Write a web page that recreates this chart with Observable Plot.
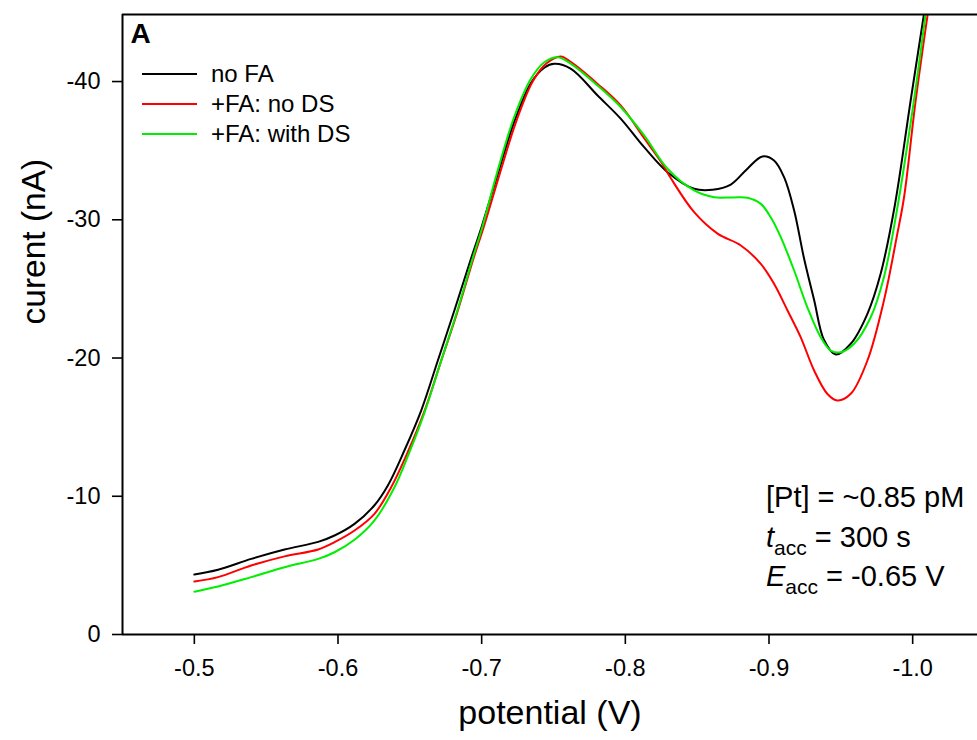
<!DOCTYPE html>
<html><head><meta charset="utf-8">
<script src="https://cdn.jsdelivr.net/npm/d3@7"></script>
<script src="https://cdn.jsdelivr.net/npm/@observablehq/plot@0.6"></script>
<style>
body{margin:0;background:#fff}
#chart svg{font-family:"Liberation Sans",Arial,sans-serif;display:block}
</style>
</head><body><div id="chart"></div>
<script>
// ---- data (potential in V, current in nA) ----
const seriesNames = ["no FA", "+FA: no DS", "+FA: with DS"];
const seriesColors = ["#000000", "#ff0000", "#00ee00"];

const potNoFA = [-0.500,-0.5165,-0.5396,-0.5628,-0.5862,-0.5976,-0.6115,-0.6254,-0.6347,-0.6462,-0.6579,-0.6695,-0.681,-0.6926,-0.700,-0.7112,-0.7227,-0.7343,-0.7436,-0.7506,-0.7622,-0.7807,-0.7969,-0.8131,-0.8294,-0.8479,-0.8607,-0.8734,-0.885,-0.8954,-0.9035,-0.9105,-0.9175,-0.9244,-0.9314,-0.9383,-0.9465,-0.9569,-0.9685,-0.9777,-0.9875,-0.9986,-1.0079];
const curNoFA = [-4.34,-4.68,-5.47,-6.15,-6.70,-7.16,-8.00,-9.35,-10.78,-13.31,-16.2,-19.82,-23.44,-27.2,-29.5,-33.3,-37.1,-39.9,-41.0,-41.28,-40.92,-38.99,-37.3,-35.25,-33.44,-32.24,-32.17,-32.55,-33.7,-34.58,-34.29,-33.08,-30.67,-27.2,-24.2,-21.3,-20.25,-21.03,-23.2,-26.09,-31.0,-38.63,-44.9];

const potFAnoDS = [-0.500,-0.5165,-0.5396,-0.5628,-0.5862,-0.5976,-0.6115,-0.6254,-0.637,-0.6486,-0.660,-0.6715,-0.683,-0.694,-0.7015,-0.7125,-0.724,-0.7355,-0.745,-0.755,-0.7622,-0.7807,-0.7969,-0.8131,-0.8248,-0.8317,-0.8479,-0.8642,-0.8804,-0.8943,-0.9035,-0.9129,-0.9221,-0.9314,-0.9407,-0.9476,-0.9569,-0.9685,-0.980,-0.9893,-0.994,-1.0021,-1.0105];
const curFAnoDS = [-3.83,-4.15,-4.99,-5.65,-6.15,-6.68,-7.52,-8.73,-10.65,-13.2,-16.1,-19.7,-23.3,-27.1,-29.5,-33.3,-37.1,-40.0,-41.3,-41.81,-41.4,-39.83,-38.26,-35.9,-34.2,-33.0,-30.55,-29.0,-28.14,-26.81,-25.37,-23.44,-21.5,-19.1,-17.4,-16.93,-17.41,-19.82,-24.16,-28.98,-31.63,-38.63,-44.9];

const potFAwithDS = [-0.500,-0.5165,-0.5396,-0.5628,-0.5862,-0.5976,-0.6115,-0.6254,-0.6393,-0.6486,-0.660,-0.6715,-0.683,-0.694,-0.7005,-0.711,-0.7225,-0.7343,-0.7436,-0.7529,-0.7622,-0.7807,-0.7969,-0.8131,-0.8294,-0.8479,-0.8618,-0.8750,-0.885,-0.8943,-0.9012,-0.9082,-0.9175,-0.9267,-0.936,-0.9430,-0.9500,-0.9592,-0.9708,-0.980,-0.9882,-1.0009,-1.009];
const curFAwithDS = [-3.10,-3.47,-4.15,-4.87,-5.47,-5.95,-6.85,-8.25,-10.65,-12.9,-16.0,-19.7,-23.4,-27.3,-29.5,-33.5,-37.4,-40.2,-41.4,-41.76,-41.28,-39.71,-38.14,-36.1,-33.69,-32.12,-31.63,-31.62,-31.59,-31.15,-30.18,-28.74,-26.33,-23.67,-21.5,-20.54,-20.42,-21.03,-22.95,-25.85,-30.18,-38.63,-44.9];

const xTicks = [-0.5, -0.6, -0.7, -0.8, -0.9, -1.0];
const yTicks = [0, -10, -20, -30, -40];
const xLabel = "potential (V)";
const yLabel = "curent (nA)";
const panelLabel = "A";
const annotation = [
  {main: "[Pt] = ~0.85 pM"},
  {italic: "t", sub: "acc", rest: " = 300 s"},
  {italic: "E", sub: "acc", rest: " = -0.65 V"}
];

const seriesData = [
  {name: seriesNames[0], pot: potNoFA, cur: curNoFA},
  {name: seriesNames[1], pot: potFAnoDS, cur: curFAnoDS},
  {name: seriesNames[2], pot: potFAwithDS, cur: curFAwithDS}
];
const rows = seriesData.flatMap(s => s.pot.map((p, i) => ({series: s.name, potential: p, current: s.cur[i]})));

const yTop = -44.85;
const font = '"Liberation Sans", Arial, sans-serif';

const chart = Plot.plot({
  width: 977, height: 740,
  marginLeft: 122, marginRight: 0, marginTop: 14, marginBottom: 106,
  style: {fontFamily: font, fontSize: "23.5px", color: "#000", background: "#fff", overflow: "visible"},
  x: {domain: [-0.45, -1.05], range: [122, 984]},
  y: {domain: [0, yTop], range: [634, 14]},
  color: {domain: seriesNames, range: seriesColors},
  marks: [
    Plot.axisX({ticks: xTicks, tickFormat: d => d.toFixed(1), tickSize: 10, tickPadding: 15, strokeWidth: 1.6, label: null, fontSize: 23.5}),
    Plot.axisY({ticks: yTicks, tickFormat: d => String(d), tickSize: 10, tickPadding: 12, strokeWidth: 1.6, label: null, fontSize: 23.5}),
    Plot.line(rows, {x: "potential", y: "current", z: "series", stroke: "series", strokeWidth: 2, curve: "catmull-rom", clip: true}),
    Plot.ruleX([-0.45], {strokeWidth: 2}),
    Plot.ruleY([0], {strokeWidth: 2}),
    Plot.ruleY([yTop], {strokeWidth: 2}),
    Plot.text([xLabel], {frameAnchor: "bottom", dy: 89, fontSize: 34, text: d => d}),
    Plot.text([yLabel], {frameAnchor: "left", dx: -88, rotate: -90, fontSize: 33.5, text: d => d}),
    Plot.text([panelLabel], {frameAnchor: "top-left", dx: 8, dy: 9, fontSize: 28, fontWeight: "bold", text: d => d, textAnchor: "start", lineAnchor: "top"})
  ]
});

const svg = d3.select(chart);
// legend
const lg = svg.append("g").attr("font-family", font).attr("font-size", 24).attr("text-anchor", "start");
seriesNames.forEach((n, i) => {
  const y = 74 + i * 30;
  lg.append("line").attr("x1", 142).attr("x2", 197).attr("y1", y).attr("y2", y)
    .attr("stroke", seriesColors[i]).attr("stroke-width", 2);
  lg.append("text").attr("x", 211).attr("y", y + 8).text(n);
});
// annotation
const ag = svg.append("g").attr("font-family", font).attr("font-size", 29).attr("text-anchor", "start");
annotation.forEach((a, i) => {
  const t = ag.append("text").attr("x", 766).attr("y", 507 + i * 39.5);
  if (a.main) { t.text(a.main); return; }
  t.append("tspan").attr("font-style", "italic").text(a.italic);
  t.append("tspan").attr("font-size", 21).attr("dy", 8).text(a.sub);
  t.append("tspan").attr("dy", -8).text(a.rest);
});

document.getElementById("chart").appendChild(chart);
</script>
</body></html>
